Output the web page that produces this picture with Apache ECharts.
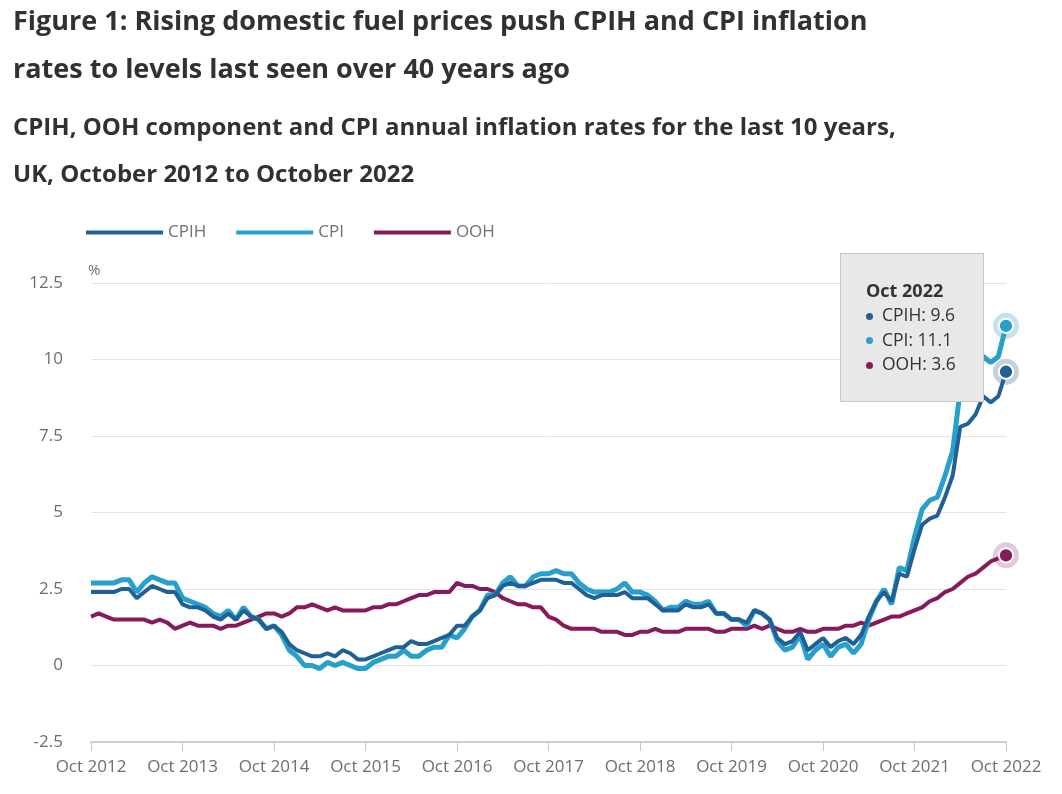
<!DOCTYPE html>
<html style="height: 100%">

<head>
	<meta charset="utf-8">
</head>

<body style="height: 100%; margin: 0; background: #fff">
	<div id="container" style="width: 1062px; height: 794px"></div>
	<script type="text/javascript" src="https://cdn.jsdelivr.net/npm/echarts@6/dist/echarts.min.js"></script>
	<script type="text/javascript">
		// Oct 2012 .. Oct 2022, monthly
		let monthNames = ['Jan', 'Feb', 'Mar', 'Apr', 'May', 'Jun', 'Jul', 'Aug', 'Sep', 'Oct', 'Nov', 'Dec'];
		let categories = [];
		for (let i = 0; i <= 120; i++) {
			let m = (9 + i) % 12;
			let y = 2012 + Math.floor((9 + i) / 12);
			categories.push(monthNames[m] + ' ' + y);
		}

		let cpih = [
			2.4, 2.4, 2.4,
			2.4, 2.5, 2.5, 2.2, 2.4, 2.6, 2.5, 2.4, 2.4, 2.0, 1.9, 1.9,
			1.8, 1.6, 1.5, 1.7, 1.5, 1.8, 1.6, 1.5, 1.2, 1.3, 1.1, 0.7,
			0.5, 0.4, 0.3, 0.3, 0.4, 0.3, 0.5, 0.4, 0.2, 0.2, 0.3, 0.4,
			0.5, 0.6, 0.6, 0.8, 0.7, 0.7, 0.8, 0.9, 1.0, 1.3, 1.3, 1.6,
			1.8, 2.2, 2.3, 2.6, 2.7, 2.6, 2.6, 2.7, 2.8, 2.8, 2.8, 2.7,
			2.7, 2.5, 2.3, 2.2, 2.3, 2.3, 2.3, 2.4, 2.2, 2.2, 2.2, 2.0,
			1.8, 1.8, 1.8, 2.0, 1.9, 1.9, 2.0, 1.7, 1.7, 1.5, 1.5, 1.4,
			1.8, 1.7, 1.5, 0.9, 0.7, 0.8, 1.1, 0.5, 0.7, 0.9, 0.6, 0.8,
			0.9, 0.7, 1.0, 1.6, 2.1, 2.4, 2.1, 3.0, 2.9, 3.8, 4.6, 4.8,
			4.9, 5.5, 6.2, 7.8, 7.9, 8.2, 8.8, 8.6, 8.8, 9.6
		];

		let cpi = [
			2.7, 2.7, 2.7,
			2.7, 2.8, 2.8, 2.4, 2.7, 2.9, 2.8, 2.7, 2.7, 2.2, 2.1, 2.0,
			1.9, 1.7, 1.6, 1.8, 1.5, 1.9, 1.6, 1.5, 1.2, 1.3, 1.0, 0.5,
			0.3, 0.0, 0.0, -0.1, 0.1, 0.0, 0.1, 0.0, -0.1, -0.1, 0.1, 0.2,
			0.3, 0.3, 0.5, 0.3, 0.3, 0.5, 0.6, 0.6, 1.0, 0.9, 1.2, 1.6,
			1.8, 2.3, 2.3, 2.7, 2.9, 2.6, 2.6, 2.9, 3.0, 3.0, 3.1, 3.0,
			3.0, 2.7, 2.5, 2.4, 2.4, 2.4, 2.5, 2.7, 2.4, 2.4, 2.3, 2.1,
			1.8, 1.9, 1.9, 2.1, 2.0, 2.0, 2.1, 1.7, 1.7, 1.5, 1.5, 1.3,
			1.8, 1.7, 1.5, 0.8, 0.5, 0.6, 1.0, 0.2, 0.5, 0.7, 0.3, 0.6,
			0.7, 0.4, 0.7, 1.5, 2.1, 2.5, 2.0, 3.2, 3.1, 4.2, 5.1, 5.4,
			5.5, 6.2, 7.0, 9.0, 9.1, 9.4, 10.1, 9.9, 10.1, 11.1
		];

		let ooh = [
			1.6, 1.7, 1.6,
			1.5, 1.5, 1.5, 1.5, 1.5, 1.4, 1.5, 1.4, 1.2, 1.3, 1.4, 1.3,
			1.3, 1.3, 1.2, 1.3, 1.3, 1.4, 1.5, 1.6, 1.7, 1.7, 1.6, 1.7,
			1.9, 1.9, 2.0, 1.9, 1.8, 1.9, 1.8, 1.8, 1.8, 1.8, 1.9, 1.9,
			2.0, 2.0, 2.1, 2.2, 2.3, 2.3, 2.4, 2.4, 2.4, 2.7, 2.6, 2.6,
			2.5, 2.5, 2.4, 2.2, 2.1, 2.0, 2.0, 1.9, 1.9, 1.6, 1.5, 1.3,
			1.2, 1.2, 1.2, 1.2, 1.1, 1.1, 1.1, 1.0, 1.0, 1.1, 1.1, 1.2,
			1.1, 1.1, 1.1, 1.2, 1.2, 1.2, 1.2, 1.1, 1.1, 1.2, 1.2, 1.2,
			1.3, 1.2, 1.3, 1.2, 1.1, 1.1, 1.2, 1.1, 1.1, 1.2, 1.2, 1.2,
			1.3, 1.3, 1.4, 1.3, 1.4, 1.5, 1.6, 1.6, 1.7, 1.8, 1.9, 2.1,
			2.2, 2.4, 2.5, 2.7, 2.9, 3.0, 3.2, 3.4, 3.5, 3.6
		];

		let seriesNames = ['CPIH', 'CPI', 'OOH'];
		let seriesColors = ['#206095', '#27a0cc', '#871a5b'];
		let haloColors = ['#c4d0db', '#c3e2ec', '#e3c9d9'];
		let yTicks = { min: -2.5, max: 12.5, step: 2.5 };

		let dom = document.getElementById('container');
		let myChart = echarts.init(dom);
		let font = '"Open Sans", "Noto Sans", sans-serif';
		let last = categories.length - 1;

		function buildSeries(name, values, idx) {
			let data = values.map(function (v, i) {
				if (i === last) {
					return {
						value: v,
						symbol: 'circle',
						symbolSize: 13,
						itemStyle: { color: seriesColors[idx], borderColor: '#fff', borderWidth: 2 }
					};
				}
				return v;
			});
			return {
				name: name,
				type: 'line',
				data: data,
				symbol: 'none',
				showSymbol: true,
				color: seriesColors[idx],
				lineStyle: { width: idx === 1 ? 5 : 4, color: seriesColors[idx] },
				emphasis: { disabled: true },
				z: 5 - idx,
				markPoint: {
					z: 1,
					silent: true,
					symbol: 'circle',
					symbolSize: 26,
					label: { show: false },
					itemStyle: { color: haloColors[idx] },
					data: [{ coord: [last, values[last]] }]
				}
			};
		}

		let option = {
			animation: false,
			title: [
				{
					text: 'Figure 1: Rising domestic fuel prices push CPIH and CPI inflation\nrates to levels last seen over 40 years ago',
					left: 8,
					top: -7,
					textStyle: { fontFamily: font, fontWeight: 'bold', fontSize: 27, lineHeight: 48, color: '#323132' }
				},
				{
					text: 'CPIH, OOH component and CPI annual inflation rates for the last 10 years,\nUK, October 2012 to October 2022',
					left: 8,
					top: 100,
					textStyle: { fontFamily: font, fontWeight: 'bold', fontSize: 24, lineHeight: 47, color: '#323132' }
				}
			],
			legend: {
				left: 86,
				top: 224,
				padding: 0,
				icon: 'rect',
				itemWidth: 77,
				itemHeight: 4,
				itemGap: 30,
				data: seriesNames,
				textStyle: { fontFamily: font, fontSize: 17, color: '#707070' }
			},
			tooltip: {
				trigger: 'axis',
				triggerOn: 'none',
				alwaysShowContent: true,
				axisPointer: { type: 'none' },
				position: [840, 253],
				backgroundColor: '#e8e8e8',
				borderColor: '#c9c9c9',
				borderWidth: 1,
				padding: [24, 10, 25, 25],
				extraCssText: 'box-shadow: none; border-radius: 0; width: 107px;',
				textStyle: { fontFamily: font, fontSize: 17.5, color: '#333' },
				formatter: function (params) {
					let html = '<div style="font-weight:bold;font-size:18px;line-height:24px">' + params[0].axisValue + '</div>';
					params.forEach(function (p) {
						let v = typeof p.value === 'object' ? p.value.value : p.value;
						html += '<div style="line-height:24.5px;white-space:nowrap;font-size:17.5px">' +
							'<span style="display:inline-block;width:7px;height:7px;border-radius:50%;background:' + seriesColors[p.seriesIndex] + ';margin-right:9px;vertical-align:middle"></span>' +
							p.seriesName + ': ' + v + '</div>';
					});
					return html;
				}
			},
			grid: { left: 91, right: 56, top: 283, bottom: 52 },
			xAxis: {
				type: 'category',
				data: categories,
				boundaryGap: false,
				axisLine: { show: true, onZero: false, lineStyle: { color: '#cfcfcf', width: 2 } },
				axisTick: { show: true, interval: 11, length: 9, lineStyle: { color: '#c8c8c8' } },
				axisLabel: { interval: 11, margin: 17, fontFamily: font, fontSize: 17, color: '#6e6e6e' },
				splitLine: { show: false }
			},
			yAxis: {
				type: 'value',
				min: yTicks.min,
				max: yTicks.max,
				interval: yTicks.step,
				name: '%',
				nameLocation: 'end',
				nameGap: 5,
				nameTextStyle: { fontFamily: font, fontSize: 15, color: '#6e6e6e', align: 'left', padding: [0, 0, 0, -3] },
				axisLine: { show: false },
				axisTick: { show: false },
				axisLabel: { margin: 28, fontFamily: font, fontSize: 17, color: '#6e6e6e' },
				splitLine: { lineStyle: { color: '#e2e2e2' } }
			},
			series: [
				buildSeries('CPIH', cpih, 0),
				buildSeries('CPI', cpi, 1),
				buildSeries('OOH', ooh, 2)
			]
		};

		myChart.setOption(option);
		myChart.dispatchAction({ type: 'showTip', seriesIndex: 0, dataIndex: last });
	</script>
</body>
</html>
